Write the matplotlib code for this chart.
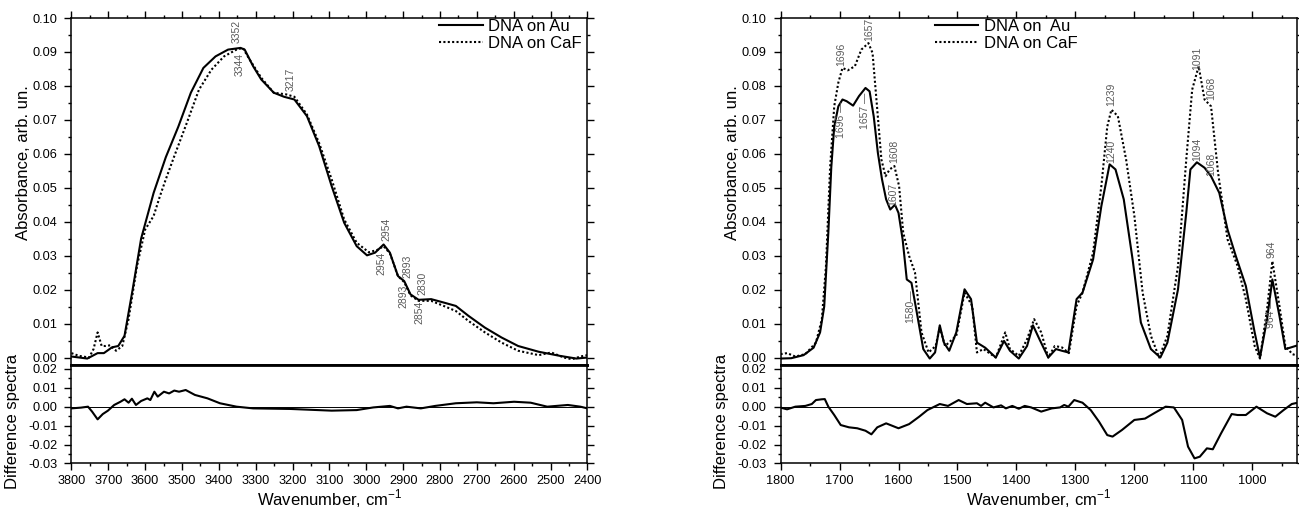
import numpy as np
import matplotlib
matplotlib.use('Agg')
import matplotlib.pyplot as plt
from matplotlib.ticker import MultipleLocator, FormatStrFormatter

plt.rcParams['font.family'] = ['Liberation Sans', 'DejaVu Sans']
plt.rcParams['mathtext.fontset'] = 'custom'
plt.rcParams['mathtext.rm'] = 'Liberation Sans'

# ---------------------------------------------------------------------------
# Left panel, 3800-2400 cm-1
# ---------------------------------------------------------------------------
wn_hi_au = [3800, 3757, 3729, 3712, 3690, 3673, 3656, 3634, 3611, 3577, 3544, 3510,
            3476, 3442, 3409, 3375, 3341, 3330, 3307, 3285, 3251, 3223, 3195, 3161,
            3128, 3094, 3060, 3026, 2998, 2976, 2953, 2936, 2914, 2897, 2880, 2858,
            2824, 2790, 2757, 2723, 2678, 2633, 2588, 2532, 2475, 2430, 2400]
abs_hi_au = [0.0003, -0.0003, 0.0013, 0.0013, 0.0030, 0.0034, 0.0064, 0.0200, 0.0350,
             0.0485, 0.0590, 0.0680, 0.0780, 0.0853, 0.0887, 0.0907, 0.0912, 0.0907,
             0.0858, 0.0819, 0.0780, 0.0768, 0.0760, 0.0711, 0.0623, 0.0505, 0.0397,
             0.0328, 0.0301, 0.0309, 0.0333, 0.0309, 0.0240, 0.0225, 0.0186, 0.0170,
             0.0172, 0.0162, 0.0152, 0.0123, 0.0088, 0.0059, 0.0034, 0.0017, 0.0005,
             -0.0003, 0.0000]

wn_hi_caf = [3800, 3780, 3752, 3740, 3729, 3718, 3707, 3695, 3679, 3662, 3645, 3622,
             3600, 3577, 3560, 3544, 3521, 3487, 3454, 3420, 3386, 3352, 3335, 3319,
             3285, 3251, 3217, 3195, 3161, 3128, 3094, 3060, 3026, 2993, 2970, 2953,
             2936, 2914, 2897, 2880, 2858, 2824, 2790, 2757, 2723, 2678, 2633, 2588,
             2532, 2498, 2464, 2442, 2419, 2400]
abs_hi_caf = [0.0013, 0.0005, 0.0000, 0.0025, 0.0074, 0.0034, 0.0034, 0.0036, 0.0020,
              0.0034, 0.0113, 0.0270, 0.0377, 0.0417, 0.0475, 0.0525, 0.0593, 0.0691,
              0.0789, 0.0848, 0.0887, 0.0907, 0.0912, 0.0882, 0.0824, 0.0780, 0.0775,
              0.0768, 0.0716, 0.0632, 0.0525, 0.0407, 0.0338, 0.0310, 0.0317, 0.0328,
              0.0307, 0.0240, 0.0222, 0.0183, 0.0167, 0.0167, 0.0152, 0.0137, 0.0108,
              0.0074, 0.0044, 0.0020, 0.0007, 0.0015, 0.0000, -0.0005, 0.0003, 0.0007]

wn_hi_diff = [3800, 3774, 3755, 3744, 3729, 3715, 3701, 3684, 3667, 3656, 3645, 3636,
              3625, 3611, 3594, 3586, 3575, 3566, 3549, 3535, 3521, 3508, 3490, 3465,
              3431, 3397, 3352, 3307, 3206, 3094, 3026, 2981, 2936, 2914, 2891, 2852,
              2813, 2757, 2700, 2655, 2599, 2554, 2509, 2453, 2419, 2400]
diff_hi = [-0.0009, -0.0005, 0.0000, -0.0026, -0.0067, -0.0039, -0.0021, 0.0009, 0.0026,
           0.0039, 0.0021, 0.0042, 0.0009, 0.0030, 0.0044, 0.0035, 0.0079, 0.0053,
           0.0079, 0.0070, 0.0085, 0.0079, 0.0088, 0.0062, 0.0044, 0.0018, 0.0000,
           -0.0009, -0.0012, -0.0021, -0.0018, -0.0004, 0.0004, -0.0009, 0.0000, -0.0009,
           0.0004, 0.0018, 0.0023, 0.0018, 0.0026, 0.0021, 0.0000, 0.0009, 0.0000, -0.0009]

peaks_hi_text = ['3352', '3344', '3217', '2954', '2954', '2893', '2893', '2830', '2854']
peaks_hi_wn = [3352, 3344, 3204, 2945, 2958, 2889, 2898, 2848, 2857]
peaks_hi_y = [0.0926, 0.0897, 0.0784, 0.0342, 0.0313, 0.0235, 0.0215, 0.0185, 0.0166]
peaks_hi_va = ['bottom', 'top', 'bottom', 'bottom', 'top', 'bottom', 'top', 'bottom', 'top']

# ---------------------------------------------------------------------------
# Right panel, 1800-925 cm-1
# ---------------------------------------------------------------------------
wn_lo_au = [1800, 1782, 1761, 1744, 1733, 1726, 1719, 1714, 1709, 1702, 1695, 1688,
            1677, 1667, 1656, 1649, 1642, 1635, 1628, 1621, 1614, 1606, 1600, 1593,
            1586, 1578, 1568, 1558, 1547, 1538, 1530, 1523, 1514, 1502, 1488, 1477,
            1467, 1453, 1435, 1421, 1411, 1396, 1382, 1372, 1361, 1346, 1333, 1323,
            1312, 1298, 1288, 1270, 1256, 1242, 1232, 1218, 1203, 1189, 1172, 1156,
            1144, 1126, 1112, 1105, 1094, 1081, 1070, 1056, 1042, 1028, 1011, 996,
            987, 975, 966, 954, 944, 936, 923]
abs_lo_au = [-0.0003, -0.0002, 0.0007, 0.0029, 0.0074, 0.0150, 0.0368, 0.0560, 0.0680,
             0.0740, 0.0760, 0.0755, 0.0742, 0.0770, 0.0794, 0.0784, 0.0710, 0.0603,
             0.0525, 0.0466, 0.0436, 0.0450, 0.0426, 0.0348, 0.0230, 0.0220, 0.0123,
             0.0025, -0.0003, 0.0015, 0.0095, 0.0044, 0.0020, 0.0074, 0.0201, 0.0172,
             0.0044, 0.0029, 0.0000, 0.0049, 0.0020, -0.0003, 0.0034, 0.0095, 0.0054,
             0.0000, 0.0025, 0.0020, 0.0015, 0.0172, 0.0191, 0.0289, 0.0446, 0.0569,
             0.0554, 0.0466, 0.0289, 0.0103, 0.0025, 0.0000, 0.0044, 0.0201, 0.0426,
             0.0554, 0.0575, 0.0559, 0.0534, 0.0485, 0.0377, 0.0299, 0.0211, 0.0074,
             0.0000, 0.0113, 0.0230, 0.0123, 0.0025, 0.0029, 0.0036]

wn_lo_caf = [1800, 1789, 1775, 1758, 1740, 1730, 1723, 1716, 1709, 1702, 1695, 1686,
             1674, 1663, 1651, 1644, 1636, 1629, 1622, 1615, 1607, 1599, 1592, 1582,
             1572, 1561, 1549, 1537, 1530, 1521, 1502, 1488, 1475, 1467, 1456, 1435,
             1419, 1411, 1396, 1382, 1370, 1358, 1346, 1335, 1323, 1311, 1298, 1288,
             1270, 1256, 1246, 1239, 1228, 1214, 1200, 1186, 1172, 1158, 1144, 1126,
             1112, 1102, 1091, 1081, 1070, 1058, 1042, 1025, 1011, 996, 987, 975,
             966, 954, 944, 932, 923]
abs_lo_caf = [0.0010, 0.0013, 0.0003, 0.0010, 0.0044, 0.0113, 0.0270, 0.0560, 0.0740,
              0.0810, 0.0853, 0.0846, 0.0858, 0.0907, 0.0926, 0.0897, 0.0730, 0.0583,
              0.0534, 0.0554, 0.0564, 0.0505, 0.0368, 0.0299, 0.0250, 0.0074, 0.0015,
              0.0034, 0.0088, 0.0034, 0.0064, 0.0191, 0.0152, 0.0015, 0.0025, 0.0000,
              0.0074, 0.0025, 0.0005, 0.0054, 0.0113, 0.0074, 0.0000, 0.0034, 0.0030,
              0.0013, 0.0152, 0.0191, 0.0309, 0.0505, 0.0680, 0.0730, 0.0711, 0.0583,
              0.0417, 0.0191, 0.0064, 0.0000, 0.0064, 0.0270, 0.0583, 0.0789, 0.0858,
              0.0760, 0.0740, 0.0544, 0.0348, 0.0270, 0.0172, 0.0034, -0.0003, 0.0142,
              0.0284, 0.0152, 0.0034, 0.0010, 0.0005]

wn_lo_diff = [1800, 1789, 1775, 1758, 1747, 1740, 1730, 1725, 1719, 1709, 1698, 1684,
              1670, 1656, 1646, 1636, 1621, 1600, 1582, 1565, 1551, 1530, 1516, 1498,
              1484, 1467, 1460, 1453, 1439, 1426, 1418, 1407, 1396, 1386, 1375, 1358,
              1340, 1326, 1319, 1312, 1302, 1288, 1274, 1260, 1246, 1237, 1221, 1200,
              1182, 1165, 1147, 1133, 1119, 1109, 1098, 1089, 1077, 1067, 1053, 1035,
              1025, 1011, 993, 975, 961, 947, 933, 923]
diff_lo = [-0.0005, -0.0014, 0.0000, 0.0004, 0.0014, 0.0035, 0.0039, 0.0040, 0.0000,
           -0.0044, -0.0097, -0.0109, -0.0114, -0.0127, -0.0146, -0.0109, -0.0088, -0.0114,
           -0.0092, -0.0053, -0.0018, 0.0014, 0.0004, 0.0035, 0.0014, 0.0018, 0.0004,
           0.0021, -0.0004, 0.0007, -0.0009, 0.0004, -0.0011, 0.0004, -0.0004, -0.0026,
           -0.0009, -0.0004, 0.0009, 0.0000, 0.0035, 0.0021, -0.0018, -0.0079, -0.0150,
           -0.0158, -0.0123, -0.0070, -0.0063, -0.0032, 0.0000, -0.0004, -0.0070, -0.0211,
           -0.0273, -0.0264, -0.0220, -0.0225, -0.0141, -0.0039, -0.0044, -0.0044, 0.0000,
           -0.0035, -0.0053, -0.0018, 0.0014, 0.0021]

peaks_lo_text = ['1696', '1657', '1696 \u2014', '1657 \u2014', '1608', '1607', '1580\u2014',
                 '1239', '1240', '1091', '1068', '1094', '1068', '964', '964 \u2014']
peaks_lo_wn = [1697, 1650, 1697, 1657, 1608, 1609, 1581, 1240, 1240, 1093, 1069, 1094,
               1069, 968, 968]
peaks_lo_y = [0.0858, 0.0931, 0.0755, 0.0779, 0.0573, 0.0446, 0.0200, 0.0740, 0.0573,
              0.0848, 0.0760, 0.0578, 0.0534, 0.0293, 0.0177]
peaks_lo_va = ['bottom', 'bottom', 'top', 'top', 'bottom', 'bottom', 'top', 'bottom',
               'bottom', 'bottom', 'bottom', 'bottom', 'bottom', 'bottom', 'top']

legend_au = ['DNA on Au', 'DNA on  Au']
legend_caf = 'DNA on CaF'

TICK_FS = 9.2
LABEL_FS = 12
DOT = (0, (1, 1.1))


def style_axes(ax, xlim, ylim, ymajor, xmajor=100, xminor=50):
    ax.set_xlim(xlim)
    ax.set_ylim(ylim)
    ax.xaxis.set_major_locator(MultipleLocator(xmajor))
    ax.xaxis.set_minor_locator(MultipleLocator(xminor))
    ax.yaxis.set_major_locator(MultipleLocator(ymajor))
    ax.yaxis.set_minor_locator(MultipleLocator(ymajor / 2))
    ax.yaxis.set_major_formatter(FormatStrFormatter('%.2f'))
    ax.tick_params(which='both', direction='out', width=1.0, labelsize=TICK_FS,
                   left=True, right=True)
    ax.tick_params(which='major', length=5)
    ax.tick_params(which='minor', length=2.5)
    ax.tick_params(axis='y', pad=5)
    for s in ax.spines.values():
        s.set_linewidth(1.1)


def draw_panel(fig, left, wn_au, y_au, wn_caf, y_caf, wn_d, y_d, xlim,
               p_text, p_wn, p_y, p_va, leg_label, leg_x):
    width = 0.3972
    ax_top = fig.add_axes([left, 0.2829, width, 0.6817])
    ax_bot = fig.add_axes([left, 0.0894, width, 0.1935])

    # Absorbance spectra
    ax_top.plot(wn_au, y_au, color='black', lw=1.5, label=leg_label)
    ax_top.plot(wn_caf, y_caf, color='black', lw=1.5, linestyle=DOT, label=legend_caf)
    style_axes(ax_top, xlim, (-0.0022, 0.1), 0.01)
    ax_top.tick_params(axis='x', which='both', top=True, bottom=False,
                       labeltop=False, labelbottom=False)
    ax_top.spines['bottom'].set_linewidth(2.0)
    ax_top.set_ylabel('Absorbance, arb. un.', fontsize=LABEL_FS)
    ax_top.yaxis.set_label_coords(-0.079, 0.582)

    # peak positions, rotated like in the original
    for t, x, y, va in zip(p_text, p_wn, p_y, p_va):
        ax_top.text(x, y, t, rotation=90, ha='center', va=va, fontsize=7.5,
                    color='#5a5a5a')

    ax_top.legend(loc='upper left', bbox_to_anchor=(leg_x, 0.997), frameon=False,
                  fontsize=LABEL_FS, borderpad=0, borderaxespad=0,
                  handlelength=2.6, handletextpad=0.35, labelspacing=0.12)

    # Difference spectra
    ax_bot.plot(wn_d, y_d, color='black', lw=1.5)
    ax_bot.axhline(0, color='black', lw=0.7)
    style_axes(ax_bot, xlim, (-0.03, 0.022), 0.01)
    ax_bot.tick_params(axis='x', which='both', top=False, bottom=True)
    ax_bot.spines['top'].set_linewidth(2.0)
    ax_bot.set_ylabel('Difference spectra', fontsize=LABEL_FS)
    ax_bot.yaxis.set_label_coords(-0.1, 0.43)
    ax_bot.set_xlabel('Wavenumber, cm$^{\\mathregular{-1}}$', fontsize=LABEL_FS)
    ax_bot.xaxis.set_label_coords(0.5, -0.245)
    return ax_top, ax_bot


fig = plt.figure(figsize=(12.99, 5.09), dpi=100)

draw_panel(fig, 0.0550, wn_hi_au, abs_hi_au, wn_hi_caf, abs_hi_caf, wn_hi_diff, diff_hi,
           (3800, 2400), peaks_hi_text, peaks_hi_wn, peaks_hi_y, peaks_hi_va,
           legend_au[0], 0.713)

draw_panel(fig, 0.6009, wn_lo_au, abs_lo_au, wn_lo_caf, abs_lo_caf, wn_lo_diff, diff_lo,
           (1800, 925), peaks_lo_text, peaks_lo_wn, peaks_lo_y, peaks_lo_va,
           legend_au[1], 0.299)

fig.savefig('out.png', dpi=100)
